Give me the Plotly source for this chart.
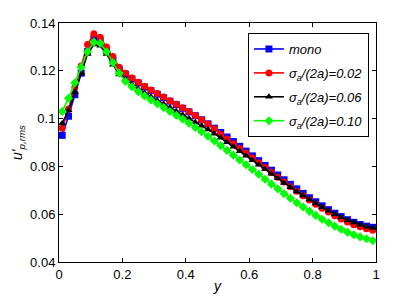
import plotly.graph_objects as go

y_pos = [round(0.01 + 0.02 * i, 2) for i in range(50)]

mono = [0.093, 0.101, 0.110, 0.119, 0.128, 0.1335, 0.1325, 0.1285, 0.1245, 0.1205,
        0.1185, 0.1166, 0.1149, 0.1132, 0.1117, 0.1102, 0.1087, 0.1073, 0.1058, 0.1043,
        0.1028, 0.1012, 0.0995, 0.0978, 0.0960, 0.0942, 0.0923, 0.0904, 0.0884, 0.0864,
        0.0844, 0.0824, 0.0804, 0.0784, 0.0764, 0.0744, 0.0725, 0.0706, 0.0687, 0.0669,
        0.0652, 0.0635, 0.0619, 0.0604, 0.0590, 0.0577, 0.0566, 0.0557, 0.0550, 0.0545]

s002 = [0.096, 0.104, 0.113, 0.122, 0.131, 0.1355, 0.134, 0.130, 0.126, 0.1215,
        0.119, 0.117, 0.1152, 0.1135, 0.112, 0.1105, 0.109, 0.1075, 0.106, 0.1045,
        0.103, 0.1013, 0.0995, 0.0977, 0.0958, 0.0935, 0.0915, 0.0895, 0.0875, 0.0855,
        0.0835, 0.0815, 0.0795, 0.0775, 0.0755, 0.0735, 0.0715, 0.0696, 0.0677, 0.0659,
        0.0642, 0.0625, 0.0609, 0.0594, 0.0580, 0.0567, 0.0556, 0.0547, 0.0539, 0.0533]

s006 = [0.098, 0.1035, 0.111, 0.119, 0.127, 0.131, 0.1305, 0.127, 0.1225, 0.1185,
        0.1165, 0.1143, 0.1124, 0.1107, 0.1091, 0.1076, 0.1061, 0.1046, 0.1031, 0.1016,
        0.1000, 0.0985, 0.0970, 0.0954, 0.0937, 0.0920, 0.0901, 0.0882, 0.0863, 0.0845,
        0.0826, 0.0807, 0.0788, 0.0769, 0.0750, 0.0731, 0.0713, 0.0695, 0.0678, 0.0661,
        0.0645, 0.0629, 0.0614, 0.0600, 0.0587, 0.0575, 0.0565, 0.0556, 0.0548, 0.0542]

s010 = [0.103, 0.1085, 0.115, 0.1215, 0.128, 0.132, 0.1315, 0.128, 0.1235, 0.119,
        0.1155, 0.1133, 0.1113, 0.1095, 0.1078, 0.1062, 0.1046, 0.1030, 0.1014, 0.0998,
        0.0981, 0.0963, 0.0945, 0.0926, 0.0907, 0.0887, 0.0867, 0.0847, 0.0827, 0.0807,
        0.0787, 0.0767, 0.0746, 0.0726, 0.0706, 0.0686, 0.0667, 0.0648, 0.0630, 0.0612,
        0.0595, 0.0579, 0.0564, 0.0550, 0.0537, 0.0525, 0.0514, 0.0505, 0.0497, 0.0489]

names = ["<i>mono</i>",
         "<i>σ<sub>a</sub>/(2a)=0.02</i>",
         "<i>σ<sub>a</sub>/(2a)=0.06</i>",
         "<i>σ<sub>a</sub>/(2a)=0.10</i>"]
colors = ["#0000ff", "#ff0000", "#000000", "#00ff00"]
symbols = ["square", "circle", "triangle-up", "diamond"]
series = [mono, s002, s006, s010]

x_ticks = [0, 0.2, 0.4, 0.6, 0.8, 1]
x_labels = ["0", "0.2", "0.4", "0.6", "0.8", "1"]
y_ticks = [0.04, 0.06, 0.08, 0.10, 0.12, 0.14]
y_labels = ["0.04", "0.06", "0.08", "0.1", "0.12", "0.14"]

fig = go.Figure()
for i, (nm, c, s, v) in enumerate(zip(names, colors, symbols, series)):
    fig.add_trace(go.Scatter(
        x=y_pos, y=v, name=nm, mode="lines+markers", legendgroup=f"g{i}",
        line=dict(color=c, width=1.6),
        marker=dict(color=c, symbol=s, size=7, line=dict(width=0)),
    ))

axis_common = dict(
    showgrid=False, zeroline=False, showline=True, linecolor="#000000", linewidth=1,
    mirror="ticks", ticks="inside", ticklen=4, tickcolor="#000000", automargin=False,
    tickfont=dict(family="Liberation Sans, Arial, sans-serif", size=13, color="#000000"),
)

# page body has an 8px default margin, so the figure is sized to fit inside it
fig.update_layout(
    width=407, height=289,
    margin=dict(l=51, r=39, t=15, b=35),
    paper_bgcolor="white", plot_bgcolor="white",
    font=dict(family="Liberation Sans, Arial, sans-serif", size=13, color="#000000"),
    xaxis=dict(range=[0, 1], tickvals=x_ticks, ticktext=x_labels,
               title=dict(text="<i>y</i>", standoff=0, font=dict(size=14)), **axis_common),
    yaxis=dict(range=[0.04, 0.14], tickvals=y_ticks, ticktext=y_labels,
               title=dict(text="<i>u'<sub>p,rms</sub></i>", standoff=4, font=dict(size=14)),
               **axis_common),
    legend=dict(x=0.596, y=0.958, xanchor="left", yanchor="top",
                bgcolor="white", bordercolor="#000000", borderwidth=1,
                font=dict(size=13), tracegroupgap=4, itemwidth=30),
    showlegend=True,
)

fig.write_html("out.html")
